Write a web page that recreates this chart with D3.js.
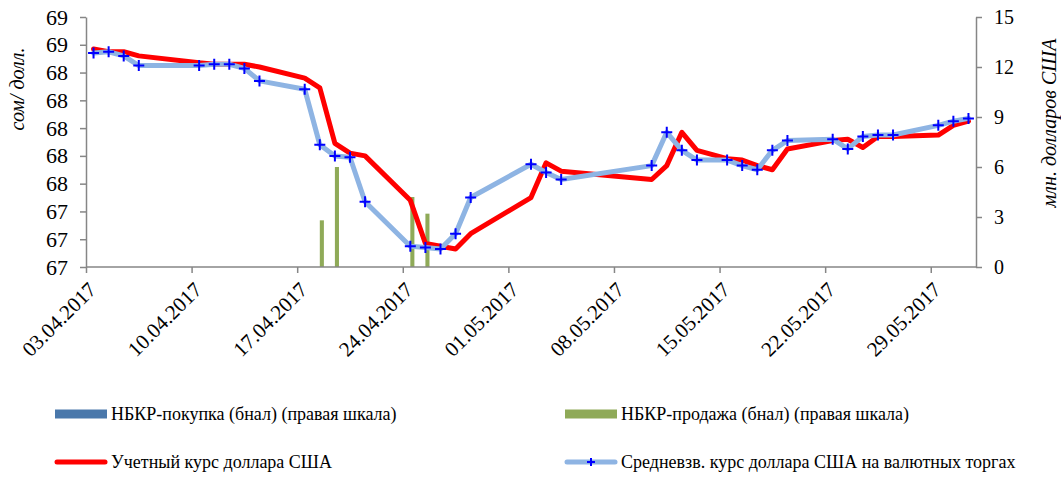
<!DOCTYPE html>
<html>
<head>
<meta charset="utf-8">
<script src="https://cdn.jsdelivr.net/npm/d3@7"></script>
<style>
  html, body { margin: 0; padding: 0; background: #fff; }
  svg { display: block; }
  text { font-family: "Liberation Serif", "Times New Roman", serif; fill: #000; }
</style>
</head>
<body>
<svg id="chart" width="1061" height="477"></svg>
<script>
// ---------------- DATA ----------------
const dates = [
  "03.04.2017","04.04.2017","05.04.2017","06.04.2017",
  "10.04.2017","11.04.2017","12.04.2017","13.04.2017","14.04.2017",
  "17.04.2017","18.04.2017","19.04.2017","20.04.2017","21.04.2017",
  "24.04.2017","25.04.2017","26.04.2017","27.04.2017","28.04.2017",
  "02.05.2017","03.05.2017","04.05.2017",
  "10.05.2017","11.05.2017","12.05.2017","13.05.2017",
  "15.05.2017","16.05.2017","17.05.2017","18.05.2017","19.05.2017",
  "22.05.2017","23.05.2017","24.05.2017","25.05.2017","26.05.2017",
  "29.05.2017","30.05.2017","31.05.2017"
];
// Учетный курс доллара США (сом/долл.)
const officialRate = [
  68.57, 68.55, 68.55, 68.52,
  68.47, 68.46, 68.46, 68.46, 68.44,
  68.36, 68.29, 67.89, 67.82, 67.80,
  67.48, 67.17, 67.15, 67.13, 67.24,
  67.50, 67.75, 67.69,
  67.63, 67.73, 67.97, 67.84,
  67.78, 67.77, 67.73, 67.70, 67.85,
  67.91, 67.92, 67.86, 67.94, 67.94,
  67.95, 68.02, 68.05
];
// Средневзв. курс доллара США на валютных торгах
const marketRate = [
  68.54, 68.55, 68.52, 68.45,
  68.45, 68.46, 68.46, 68.43, 68.34,
  68.28, 67.88, 67.80, 67.79, 67.47,
  67.15, 67.14, 67.13, 67.24, 67.50,
  67.74, 67.68, 67.63,
  67.73, 67.97, 67.84, 67.77,
  67.77, 67.73, 67.70, 67.84, 67.91,
  67.92, 67.85, 67.94, 67.95, 67.95,
  68.02, 68.05, 68.07
];
// НБКР интервенции (млн. долларов США)
const purchaseDates = [];
const purchaseValues = [];
const saleDates = ["18.04.2017","19.04.2017","24.04.2017","25.04.2017"];
const saleValues = [2.8, 6.0, 4.2, 3.2];

const xTickDates = ["03.04.2017","10.04.2017","17.04.2017","24.04.2017","01.05.2017",
                    "08.05.2017","15.05.2017","22.05.2017","29.05.2017"];
const xDomain = ["03.04.2017","01.06.2017"];
const leftDomain = [67.0, 68.8];
const leftTickLabels = ["67","67","67","68","68","68","68","68","69","69"];
const rightDomain = [0, 15];
const rightTicks = [0, 3, 6, 9, 12, 15];

const seriesNames = {
  purchase: "НБКР-покупка (бнал) (правая шкала)",
  sale: "НБКР-продажа (бнал) (правая шкала)",
  official: "Учетный курс доллара США",
  market: "Средневзв. курс доллара США на валютных торгах"
};
const leftTitle = "сом/ долл.";
const rightTitle = "млн. долларов США";

// ---------------- LAYOUT ----------------
const plot = { left: 86, right: 976, top: 17, bottom: 267 };
const colors = {
  purchase: "#4A78AB", sale: "#8FAA58", official: "#FF0000",
  marketLine: "#8EB4E3", marketMarker: "#0000FF", axis: "#868686"
};

const parse = d3.timeParse("%d.%m.%Y");
const mid = d => d3.timeHour.offset(parse(d), 12);

const svg = d3.select("#chart");

const x = d3.scaleTime().domain(xDomain.map(parse)).range([plot.left, plot.right]);
const yL = d3.scaleLinear().domain(leftDomain).range([plot.bottom, plot.top]);
const yR = d3.scaleLinear().domain(rightDomain).range([plot.bottom, plot.top]);

const slot = x(parse("04.04.2017")) - x(parse("03.04.2017"));
const barW = slot * 0.27;

// ---------------- BARS ----------------
svg.append("g").selectAll("rect.purchase")
  .data(purchaseDates.map((d, i) => ({ d, v: purchaseValues[i] })))
  .join("rect")
  .attr("x", p => x(mid(p.d)) - barW)
  .attr("width", barW)
  .attr("y", p => yR(p.v))
  .attr("height", p => yR(0) - yR(p.v))
  .attr("fill", colors.purchase);

svg.append("g").selectAll("rect.sale")
  .data(saleDates.map((d, i) => ({ d, v: saleValues[i] })))
  .join("rect")
  .attr("x", p => x(mid(p.d)))
  .attr("width", barW)
  .attr("y", p => yR(p.v))
  .attr("height", p => yR(0) - yR(p.v))
  .attr("fill", colors.sale);

// ---------------- AXES ----------------
const leftTicks = d3.range(leftTickLabels.length).map(i =>
  leftDomain[0] + i * (leftDomain[1] - leftDomain[0]) / (leftTickLabels.length - 1));

const axisStyle = g => {
  g.select(".domain").attr("stroke", colors.axis).attr("stroke-width", 1.5);
  g.selectAll(".tick line").attr("stroke", colors.axis).attr("stroke-width", 1.5);
  g.selectAll("text").attr("fill", "#000");
};

const gL = svg.append("g").attr("transform", `translate(${plot.left},0)`)
  .call(d3.axisLeft(yL).tickValues(leftTicks).tickSize(6).tickPadding(12)
    .tickSizeOuter(0).tickFormat((d, i) => leftTickLabels[i]))
  .call(axisStyle);
gL.selectAll("text").attr("font-size", 22);

const gR = svg.append("g").attr("transform", `translate(${plot.right},0)`)
  .call(d3.axisRight(yR).tickValues(rightTicks).tickSize(6).tickPadding(12)
    .tickSizeOuter(0).tickFormat(d3.format("d")))
  .call(axisStyle);
gR.selectAll("text").attr("font-size", 20);

const gX = svg.append("g").attr("transform", `translate(0,${plot.bottom})`)
  .call(d3.axisBottom(x).tickValues(xTickDates.map(parse)).tickSize(6)
    .tickSizeOuter(0).tickFormat(d3.timeFormat("%d.%m.%Y")))
  .call(axisStyle);
gX.selectAll(".domain").attr("d", `M${plot.left},0H${plot.right}`);
gX.selectAll(".tick text")
  .attr("font-size", 21)
  .attr("text-anchor", "end")
  .attr("dy", 0).attr("y", 0)
  .attr("transform", "translate(11,24) rotate(-45)");

// axis titles
svg.append("text")
  .attr("transform", "translate(24,89) rotate(-90)")
  .attr("text-anchor", "middle")
  .attr("font-style", "italic")
  .attr("font-size", 20)
  .text(leftTitle);
svg.append("text")
  .attr("transform", "translate(1056,123) rotate(-90)")
  .attr("text-anchor", "middle")
  .attr("font-style", "italic")
  .attr("font-size", 20)
  .text(rightTitle);

// ---------------- LINES ----------------
const lineL = d3.line().x(p => x(mid(p.d))).y(p => yL(p.v));
const officialData = dates.map((d, i) => ({ d, v: officialRate[i] }));
const marketData = dates.map((d, i) => ({ d, v: marketRate[i] }));

svg.append("path").datum(officialData)
  .attr("d", lineL).attr("fill", "none")
  .attr("stroke", colors.official).attr("stroke-width", 5)
  .attr("stroke-linejoin", "round").attr("stroke-linecap", "round");

svg.append("path").datum(marketData)
  .attr("d", lineL).attr("fill", "none")
  .attr("stroke", colors.marketLine).attr("stroke-width", 5)
  .attr("stroke-linejoin", "round").attr("stroke-linecap", "round");

const crossPath = (cx, cy, s) => `M${cx - s},${cy}H${cx + s}M${cx},${cy - s}V${cy + s}`;
svg.append("g").selectAll("path")
  .data(marketData).join("path")
  .attr("d", p => crossPath(x(mid(p.d)), yL(p.v), 5.5))
  .attr("stroke", colors.marketMarker).attr("stroke-width", 2).attr("fill", "none");

// ---------------- LEGEND ----------------
const legend = svg.append("g");
const legItems = [
  { key: "purchase", type: "rect", x: 55, y: 414 },
  { key: "sale", type: "rect", x: 565, y: 414 },
  { key: "official", type: "line", x: 55, y: 462 },
  { key: "market", type: "marker", x: 565, y: 462 }
];
legItems.forEach(it => {
  const g = legend.append("g").attr("transform", `translate(${it.x},${it.y})`);
  if (it.type === "rect") {
    g.append("rect").attr("x", 0).attr("y", -4.5).attr("width", 52).attr("height", 9)
      .attr("fill", colors[it.key]);
  } else if (it.type === "line") {
    g.append("line").attr("x1", 2).attr("x2", 50).attr("y1", 0).attr("y2", 0)
      .attr("stroke", colors.official).attr("stroke-width", 5).attr("stroke-linecap", "round");
  } else {
    g.append("line").attr("x1", 2).attr("x2", 50).attr("y1", 0).attr("y2", 0)
      .attr("stroke", colors.marketLine).attr("stroke-width", 5).attr("stroke-linecap", "round");
    g.append("path").attr("d", crossPath(26, 0, 4)).attr("stroke", colors.marketMarker)
      .attr("stroke-width", 2).attr("fill", "none");
  }
  g.append("text").attr("x", 56).attr("y", 0).attr("dy", "0.35em")
    .attr("font-size", 18).text(seriesNames[it.key]);
});
</script>
</body>
</html>
